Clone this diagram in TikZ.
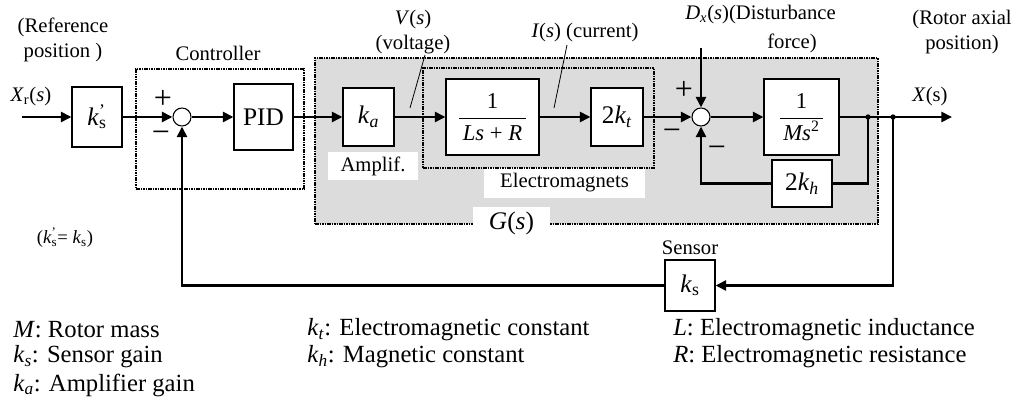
\documentclass[tikz,border=0pt]{standalone}
\usepackage{fontspec}
\setmainfont{Liberation Serif}
\usetikzlibrary{arrows.meta,fit,calc}
\definecolor{gsgray}{RGB}{220,220,220}
\newcommand\kprime{\textit{k}\makebox[0pt][l]{\textsuperscript{'}}\textsubscript{s}}
\begin{document}
\begin{tikzpicture}[x=0.75pt,y=-0.75pt,
  blk/.style={draw, line width=0.8pt, fill=white, inner sep=0pt, font=\fontsize{19}{22}\selectfont},
  frame/.style={draw, dash pattern=on 1.2pt off 0.6pt, line width=1.5pt, inner sep=0pt},
  wlabel/.style={fill=white, inner sep=0pt, font=\fontsize{15.5}{19}\selectfont},
  sig/.style={line width=2.2pt, -{Triangle[length=8pt,width=7.5pt]}},
  wire/.style={line width=2.2pt},
  lbl/.style={font=\fontsize{15.5}{19}\selectfont, inner sep=0pt, align=center},
  sign/.style={font=\fontsize{24}{24}\selectfont, inner sep=0pt},
  leg/.style={font=\fontsize{18.5}{21}\selectfont, inner sep=0pt, anchor=west},
  sum/.style={draw, circle, line width=0.8pt, fill=white, minimum size=13.5pt, inner sep=0pt},
  ptr/.style={line width=0.6pt},
]
\useasboundingbox (0,0) rectangle (1016,402);

% frames
\node[frame, fill=gsgray, fit={(315,58) (878,224)}] (gbox) {};
\node[frame, fit={(136,69) (304,189)}] (ctrl) {};
\node[wlabel, minimum width=67.5pt, minimum height=21pt] (amp) at (373,166) {Amplif.};
\node[wlabel, minimum width=120.75pt, minimum height=22.5pt] (emlbl) at (564.5,183) {Electromagnets};
\node[frame, fit={(423,68) (654,168)}] (emag) {};
\node[wlabel, minimum width=57.75pt, minimum height=24.75pt, font=\fontsize{19}{22}\selectfont] (glbl) at (511.5,223.5) {\textit{G}(\textit{s})};

% blocks
\node[blk, minimum width=37.5pt, minimum height=45pt] (ksp) at (97,117) {\kprime};
\node[blk, minimum width=44.25pt, minimum height=49.5pt] (pid) at (263.5,117) {PID};
\node[blk, minimum width=38.25pt, minimum height=43.5pt] (ka) at (368.5,117) {\textit{k}\textsubscript{\textit{a}}};
\node[blk, minimum width=69.75pt, minimum height=57pt, font=\fontsize{17}{20}\selectfont] (lsr) at (492.5,117) {$\displaystyle\frac{\mbox{1}}{\mbox{\,\textit{Ls} + \textit{R}\,}}$};
\node[blk, minimum width=39pt, minimum height=43.5pt] (kt) at (617,117) {2\textit{k}\textsubscript{\textit{t}}};
\node[blk, minimum width=56.25pt, minimum height=57pt, font=\fontsize{17}{20}\selectfont] (ms) at (801.5,117) {$\displaystyle\frac{\mbox{1}}{\mbox{\,\textit{Ms}\textsuperscript{2}\,}}$};
\node[blk, minimum width=45pt, minimum height=35.25pt] (kh) at (802,183.5) {2\textit{k}\textsubscript{\textit{h}}};
\node[blk, minimum width=37.5pt, minimum height=38.25pt] (ks) at (690,285.5) {\textit{k}\textsubscript{s}};

\node[sum] (s1) at (182,117) {};
\node[sum] (s2) at (701,117) {};

% coordinates
\coordinate (xin) at (22,117);
\coordinate (xout) at (952,117);
\coordinate (j1) at (868,117);
\coordinate (j2) at (893,117);
\coordinate (dtop) at (701,48);
\coordinate (va) at (425,55);
\coordinate (vb) at (410,108);
\coordinate (ia) at (567,45);
\coordinate (ib) at (554,108);

% connectors
\draw[sig] (xin) -- (ksp);
\draw[sig] (ksp) -- (s1);
\draw[sig] (s1) -- (pid);
\draw[sig] (pid) -- (ka);
\draw[sig] (ka) -- (lsr);
\draw[sig] (lsr) -- (kt);
\draw[sig] (kt) -- (s2);
\draw[sig] (s2) -- (ms);
\draw[sig] (ms) -- (xout);
\draw[sig] (dtop) -- (s2);
\draw[wire] (j1) |- (kh);
\draw[sig] (kh) -| (s2);
\draw[sig] (j2) |- (ks);
\draw[sig] (ks) -| (s1);
\fill (j1) circle (2pt);
\fill (j2) circle (2pt);
\draw[ptr] (va) -- (vb);
\draw[ptr] (ia) -- (ib);

% labels
\node[lbl] (refpos) at (63,40) {(Reference\\position )};
\node[lbl] (xr) at (31,97) {\textit{X}\textsubscript{r}(\textit{s})};
\node[lbl] (ctl) at (218,53) {Controller};
\node[sign] (p1) at (163,99) {+};
\node[sign] (m1) at (161,137) {−};
\node[lbl] (vs) at (413,32) {\textit{V}(\textit{s})\\(voltage)};
\node[lbl] (is) at (585,33) {\textit{I}(\textit{s}) (current)};
\node[lbl, anchor=west] (dx) at (685,15) {\textit{D}\textsubscript{\textit{x}}(\textit{s})(Disturbance};
\node[lbl] (force) at (792,43) {force)};
\node[sign] (p2) at (684,90) {+};
\node[sign] (m2) at (672,135) {−};
\node[sign] (m3) at (717,152) {−};
\node[lbl] (rot) at (962,32) {(Rotor axial\\position)};
\node[lbl] (xs) at (930,97) {\textit{X}(s)};
\node[lbl] (sens) at (690,248) {Sensor};
\node[lbl, font=\fontsize{14}{16}\selectfont] (kseq) at (65,238) {(\kprime= \textit{k}\textsubscript{s})};

% legend
\node[leg] (l1) at (13,330) {\textit{M}: Rotor mass};
\node[leg] (l2) at (13,357) {\textit{k}\textsubscript{\textit{s}}: Sensor gain};
\node[leg] (l3) at (13,385) {\textit{k}\textsubscript{\textit{a}}: Amplifier gain};
\node[leg] (l4) at (307,330) {\textit{k}\textsubscript{\textit{t}}: Electromagnetic constant};
\node[leg] (l5) at (307,357) {\textit{k}\textsubscript{\textit{h}}: Magnetic constant};
\node[leg] (l6) at (673,330) {\textit{L}: Electromagnetic inductance};
\node[leg] (l7) at (673,357) {\textit{R}: Electromagnetic resistance};
\end{tikzpicture}
\end{document}
